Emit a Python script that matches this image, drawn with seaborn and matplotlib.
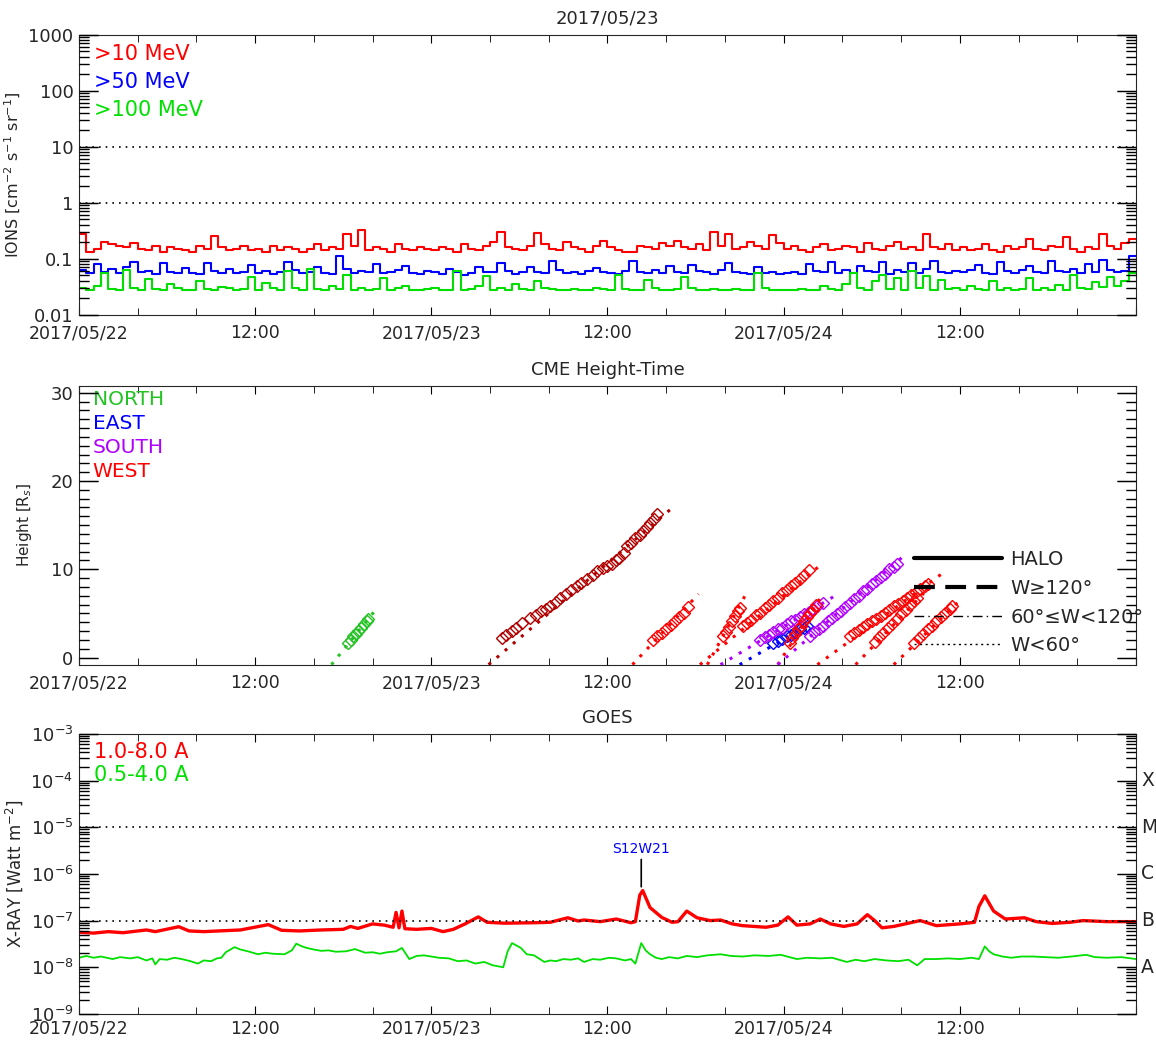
import numpy as np
import pandas as pd
import seaborn as sns
import matplotlib.pyplot as plt
import matplotlib.dates as mdates
import matplotlib.ticker as mticker
import matplotlib.transforms as mtransforms
from matplotlib.lines import Line2D

# ---- data ----
START = pd.Timestamp('2017-05-22')

# proton flux, 30 min steps starting 2017/05/22 00:00
p10 = [28, 13, 15, 20, 18, 17, 16, 19, 15, 14, 17, 13, 16, 15, 14, 13, 17, 15, 25, 16, 14, 15, 17, 14,
       15, 13, 17, 14, 16, 15, 13, 15, 18, 14, 16, 15, 27, 17, 32, 14, 16, 15, 13, 18, 15, 14, 16, 15,
       14, 16, 15, 13, 18, 15, 14, 17, 20, 30, 16, 15, 14, 17, 29, 18, 15, 14, 20, 16, 15, 13, 17, 21,
       16, 14, 13, 13, 17, 16, 15, 19, 17, 21, 16, 15, 18, 14, 30, 17, 28, 15, 16, 20, 17, 15, 26, 19,
       15, 17, 14, 13, 16, 18, 14, 15, 17, 16, 13, 19, 15, 14, 17, 20, 15, 16, 14, 28, 16, 15, 18, 14,
       16, 14, 15, 18, 14, 13, 17, 15, 16, 22, 15, 14, 17, 16, 24, 15, 13, 16, 15, 27, 17, 15, 19, 22]
p50 = [62, 55, 80, 58, 66, 55, 72, 88, 57, 60, 54, 82, 58, 56, 68, 55, 53, 84, 61, 56, 64, 55, 58, 76,
       55, 60, 53, 57, 88, 62, 55, 58, 72, 56, 54, 110, 64, 56, 60, 58, 80, 55, 57, 62, 75, 56, 54, 60,
       58, 54, 66, 57, 52, 55, 70, 58, 57, 85, 60, 54, 57, 72, 58, 56, 90, 62, 55, 58, 54, 60, 68, 57,
       56, 54, 60, 90, 58, 55, 62, 56, 74, 58, 56, 78, 60, 57, 54, 62, 85, 58, 56, 54, 70, 56, 58, 53,
       55, 58, 54, 80, 60, 57, 88, 56, 62, 55, 75, 60, 57, 88, 54, 62, 58, 85, 56, 64, 90, 58, 55, 60,
       57, 62, 78, 56, 54, 86, 60, 56, 62, 74, 58, 55, 92, 60, 57, 64, 56, 80, 58, 95, 62, 57, 60, 110]
p100 = [30, 28, 32, 55, 29, 28, 62, 30, 28, 44, 29, 27, 35, 30, 28, 27, 40, 29, 28, 31, 30, 27, 29, 46,
        28, 36, 30, 27, 60, 30, 28, 65, 29, 27, 32, 29, 52, 28, 30, 27, 29, 45, 28, 30, 33, 28, 27, 29,
        30, 28, 27, 60, 28, 29, 32, 48, 28, 30, 27, 35, 29, 28, 40, 30, 29, 27, 28, 29, 27, 28, 30, 29,
        28, 50, 29, 27, 28, 42, 30, 28, 27, 29, 47, 30, 28, 27, 29, 28, 27, 29, 28, 27, 55, 30, 28, 27,
        28, 27, 29, 28, 27, 33, 29, 28, 35, 55, 30, 28, 40, 52, 29, 45, 28, 60, 30, 48, 28, 42, 29, 30,
        28, 33, 29, 27, 40, 28, 30, 27, 29, 45, 28, 30, 27, 34, 28, 50, 30, 29, 38, 31, 47, 33, 40, 55]

# GOES x-ray, (hours, flux in 1e-8 W m^-2)
xl_t = [0, 1, 2, 3, 4.6, 5.2, 6.8, 7.5, 8.5, 9.5, 11, 12.9, 13.8, 15, 16.5, 18, 18.5, 19.0, 20.0, 20.8,
        21.4, 21.6, 21.8, 22.0, 22.2, 23.0, 24.0, 24.8, 25.5, 26.3, 27.2, 27.8, 29, 31, 32.1, 33.3, 34.0,
        34.4, 35.5, 36.6, 37.6, 37.9, 38.2, 38.4, 38.9, 39.7, 40.4, 40.8, 41.4, 42.1, 43.0, 43.7, 44.5,
        45.2, 46.8, 47.6, 48.3, 48.9, 49.8, 50.5, 51.2, 52.1, 53.0, 53.7, 54.2, 54.7, 55.5, 57.3, 58.4,
        60, 61.0, 61.3, 61.7, 62.3, 63.1, 64.4, 65.2, 66.3, 67.5, 68.4, 70, 71.5, 72]
xl_v = [5.6, 5.4, 5.8, 5.5, 6.3, 5.8, 7.4, 6.0, 5.8, 6.0, 6.3, 8.2, 6.2, 6.0, 6.3, 6.5, 7.5, 6.8, 8.5, 8.0,
        7.2, 15, 7.0, 16, 6.7, 6.5, 6.8, 5.8, 6.5, 8.5, 12, 9.2, 8.8, 9.0, 9.2, 11.5, 9.8,
        10.3, 9.5, 10.8, 9.0, 9.5, 35, 44, 19, 11.7, 9.2, 9.5, 16, 11.5, 10.0, 10.3, 8.5,
        7.8, 7.2, 8.0, 12, 8.0, 8.5, 10.8, 8.5, 7.5, 8.5, 13.4, 10, 7.0, 7.5, 10.0, 7.8,
        8.5, 9.2, 20, 34, 16, 10.8, 11.5, 9.5, 8.7, 9.2, 10.0, 9.5, 9.5, 9.5]
xs_t = [0, 0.5, 1, 1.5, 2.3, 2.8, 3.5, 4.0, 4.6, 5.0, 5.2, 5.5, 6, 6.5, 7, 7.6, 8.1, 8.5, 9.0, 9.4, 9.7,
        10.0, 10.6, 11.0, 11.5, 12.2, 12.7, 13.2, 14.0, 14.5, 14.8, 15.2, 15.5, 16.0, 16.5, 17.0, 17.5,
        18.2, 18.8, 19.5, 20.0, 20.5, 21.0, 21.6, 22.0, 22.5, 23.0, 23.5, 24.0, 24.5, 25.2, 25.8, 26.4,
        27.0, 27.6, 28.2, 28.9, 29.2, 29.5, 30.1, 30.5, 31.0, 31.7, 32.1, 32.5, 33.0, 33.5, 34.0, 34.4,
        35.0, 35.5, 36.1, 36.6, 37.2, 37.6, 37.9, 38.3, 38.6, 38.9, 39.3, 39.7, 40.2, 40.8, 41.4, 42.1,
        42.8, 43.7, 44.4, 45.2, 46.0, 47.0, 47.8, 48.9, 49.6, 50.5, 51.3, 52.3, 52.9, 53.5, 54.2, 55.0,
        55.8, 56.5, 57.1, 57.6, 58.4, 59.2, 60.0, 60.8, 61.3, 61.7, 62.0, 62.3, 62.9, 63.5, 64.2, 65.0,
        65.8, 66.7, 67.6, 68.6, 69.2, 70.0, 71.0, 72]
xs_v = [1.6, 1.75, 1.6, 1.7, 1.5, 1.65, 1.55, 1.65, 1.4, 1.55, 1.15, 1.5, 1.45, 1.6, 1.5, 1.35, 1.2, 1.4,
        1.35, 1.55, 1.6, 2.1, 2.7, 2.4, 2.2, 1.9, 2.05, 1.95, 1.9, 2.3, 3.2, 2.8, 2.6, 2.4, 2.25, 2.3, 2.15,
        2.2, 2.45, 2.05, 2.1, 1.95, 2.1, 2.2, 2.6, 1.5, 1.75, 1.8, 1.7, 1.6, 1.55, 1.35, 1.4,
        1.2, 1.3, 1.1, 1.0, 2.2, 3.3, 2.6, 1.9, 1.8, 1.3, 1.4, 1.35, 1.5, 1.45, 1.55, 1.3,
        1.5, 1.45, 1.6, 1.55, 1.4, 1.5, 1.2, 3.3, 2.3, 1.9, 1.6, 1.5, 1.65, 1.55, 1.75, 1.65,
        1.8, 1.9, 1.75, 1.7, 1.8, 1.75, 1.85, 1.5, 1.6, 1.55, 1.6, 1.3, 1.45, 1.35, 1.5, 1.4,
        1.35, 1.45, 1.1, 1.5, 1.5, 1.55, 1.5, 1.6, 1.5, 2.8, 2.2, 1.9, 1.7, 1.6, 1.7, 1.7,
        1.65, 1.6, 1.7, 1.85, 1.65, 1.6, 1.65, 1.5]

# CME height-time: measured points (hours, Rs) and linear fits
cme_color = ['#22c322', '#b00000', 'red', 'red', 'red', 'blue', '#b000ff', 'red', '#b000ff', 'red', 'red', 'red']
cme_t = [
    [18.3, 18.5, 18.7, 18.9, 19.0, 19.2, 19.4, 19.6, 19.7],
    [28.8, 29.1, 29.5, 29.8, 30.2, 30.7, 31.1, 31.5, 31.8, 32.1, 32.5, 32.8, 33.2, 33.5, 33.9, 34.2, 34.6,
     35.0, 35.3, 35.7, 36.0, 36.3, 36.6, 36.8, 37.1, 37.3, 37.6, 37.9, 38.2, 38.4, 38.7, 38.9, 39.2, 39.4],
    [39.1, 39.4, 39.7, 40.0, 40.3, 40.6, 40.9, 41.2, 41.5],
    [43.9, 44.1, 44.3, 44.5, 44.7, 44.9, 45.0],
    [45.2, 45.5, 45.8, 46.1, 46.4, 46.7, 47.0, 47.3, 47.6, 47.9, 48.2, 48.5, 48.8, 49.1, 49.4, 49.7],
    [47.3, 47.6, 47.9, 48.2, 48.5, 48.8, 49.1, 49.4, 49.6],
    [46.4, 46.7, 47.0, 47.3, 47.6, 47.9, 48.2, 48.5, 48.8, 49.1, 49.4, 49.7, 50.0, 50.3, 50.7],
    [48.4, 48.6, 48.8, 49.0, 49.2, 49.4, 49.6, 49.8, 50.0, 50.2],
    [49.8, 50.1, 50.4, 50.7, 51.0, 51.3, 51.6, 51.9, 52.2, 52.5, 52.8, 53.1, 53.4, 53.7, 54.0, 54.3,
     54.6, 54.9, 55.2, 55.5, 55.7],
    [52.5, 52.8, 53.1, 53.4, 53.7, 54.0, 54.3, 54.6, 54.9, 55.2, 55.5, 55.8, 56.1, 56.4, 56.7, 57.0,
     57.3, 57.6, 57.8],
    [54.2, 54.5, 54.8, 55.1, 55.4, 55.7, 56.0, 56.3, 56.6, 56.9, 57.1],
    [56.9, 57.2, 57.5, 57.8, 58.1, 58.4, 58.7, 59.0, 59.3, 59.5],
]
cme_h = [
    [1.6, 2.0, 2.4, 2.7, 3.0, 3.3, 3.8, 4.1, 4.4],
    [2.2, 2.6, 3.0, 3.4, 3.9, 4.5, 4.8, 5.3, 5.5, 5.8, 6.3, 6.8, 7.2, 7.6, 8.1, 8.5, 8.9,
     9.3, 9.8, 10.2, 10.4, 10.6, 11.0, 11.3, 11.9, 12.6, 13.0, 13.5, 13.9, 14.3, 14.8, 15.3, 15.7, 16.3],
    [2.0, 2.4, 2.8, 3.2, 3.7, 4.1, 4.6, 5.1, 5.7],
    [2.4, 2.9, 3.5, 4.1, 4.7, 5.3, 5.6],
    [3.6, 3.9, 4.3, 4.8, 5.1, 5.6, 6.0, 6.4, 6.8, 7.3, 7.6, 8.1, 8.5, 8.9, 9.4, 9.9],
    [1.6, 1.9, 2.1, 2.4, 2.6, 2.9, 3.2, 3.4, 3.6],
    [2.0, 2.3, 2.6, 2.9, 3.2, 3.4, 3.8, 4.1, 4.3, 4.6, 4.9, 5.2, 5.5, 5.8, 6.2],
    [1.7, 2.2, 2.7, 3.2, 3.6, 4.1, 4.6, 5.0, 5.4, 5.9],
    [2.5, 2.9, 3.2, 3.6, 4.1, 4.5, 4.9, 5.3, 5.7, 6.2, 6.6, 7.0, 7.5, 7.8, 8.3, 8.7, 9.1, 9.5, 10.0, 10.3, 10.6],
    [2.5, 2.8, 3.1, 3.5, 3.8, 4.1, 4.4, 4.7, 5.1, 5.4, 5.8, 6.1, 6.4, 6.8, 7.1, 7.4, 7.8, 8.1, 8.3],
    [1.8, 2.3, 2.8, 3.3, 3.8, 4.4, 4.9, 5.4, 5.9, 6.4, 6.7],
    [1.7, 2.2, 2.7, 3.2, 3.6, 4.1, 4.6, 5.0, 5.5, 5.8],
]
cme_fit = [(17.2, -0.8, 20.3, 5.6), (27.9, -0.8, 40.3, 16.8), (37.7, -0.8, 42.2, 7.2),
           (42.8, -0.8, 45.5, 7.4), (42.3, -0.8, 50.6, 10.6), (45.0, -0.8, 50.0, 4.0),
           (43.7, -0.8, 51.4, 6.9), (47.6, -0.8, 50.6, 7.0), (47.6, -0.8, 56.1, 11.4),
           (50.3, -0.8, 58.7, 9.4), (52.9, -0.8, 57.6, 7.4), (55.5, -0.8, 60.2, 6.8)]

flux_labels = ['>10 MeV', '>50 MeV', '>100 MeV']
flux_colors = ['red', 'blue', '#00e000']
dir_labels = ['NORTH', 'EAST', 'SOUTH', 'WEST']
dir_colors = ['#22c322', 'blue', '#b000ff', 'red']
width_labels = ['HALO', 'W\u2265120\u00b0', '60\u00b0\u2264W<120\u00b0', 'W<60\u00b0']
goes_classes = ['X', 'M', 'C', 'B', 'A']


def to_time(hours):
    return START + pd.to_timedelta(np.asarray(hours, dtype=float), unit='h')


def fmt_date(x, pos):
    d = mdates.num2date(x).replace(tzinfo=None)
    if d >= START + pd.Timedelta(hours=72):
        return ''
    if d.hour == 0:
        return d.strftime('%Y/%m/%d')
    return d.strftime('%H:%M')


def draw_yticks(ax, major_frac=0.018, minor_frac=0.0095):
    # IDL style inward ticks on both y sides, placed from the axis locators
    lo, hi = ax.get_ylim()
    tr = ax.get_yaxis_transform()
    for locs, frac in [(ax.yaxis.get_majorticklocs(), major_frac),
                       (ax.yaxis.get_minorticklocs(), minor_frac)]:
        locs = [v for v in locs if lo <= v <= hi]
        ax.hlines(locs, 0, frac, transform=tr, colors='black', lw=1.0, clip_on=False, zorder=5)
        ax.hlines(locs, 1 - frac, 1, transform=tr, colors='black', lw=1.0, clip_on=False, zorder=5)


sns.set_style('ticks')
plt.rcParams['font.family'] = ['DejaVu Sans']
plt.rcParams.update({'xtick.direction': 'in', 'ytick.direction': 'in',
                     'ytick.major.size': 14, 'ytick.minor.size': 7,
                     'xtick.major.size': 6, 'xtick.minor.size': 5,
                     'xtick.labelsize': 12.5, 'ytick.labelsize': 13,
                     'xtick.major.pad': 7, 'ytick.major.pad': 4})

fig = plt.figure(figsize=(11.56, 10.54), dpi=100)
ax1 = fig.add_axes([0.0683, 0.7015, 0.9144, 0.2657])
ax2 = fig.add_axes([0.0683, 0.3694, 0.9144, 0.2647])
ax3 = fig.add_axes([0.0683, 0.0380, 0.9144, 0.2657])

dotted = (0, (1, 3))

# ---- panel 1: protons ----
step_t = to_time(np.arange(len(p10) + 1) * 0.5)
for vals, scale, c in zip([p10, p50, p100], [0.01, 0.001, 0.001], flux_colors):
    y = np.array(vals + [vals[-1]]) * scale
    sns.lineplot(x=step_t, y=y, ax=ax1, color=c, lw=1.5, drawstyle='steps-post',
                 estimator=None, errorbar=None)
ax1.set_yscale('log')
ax1.set_ylim(0.01, 1000)
for lev in [1, 10]:
    ax1.axhline(lev, color='k', ls=dotted, lw=1.2)
ax1.set_ylabel('IONS [cm$^{-2}$ s$^{-1}$ sr$^{-1}$]', fontsize=11.5, labelpad=4)
ax1.set_title('2017/05/23', fontsize=13, pad=8)
for lab, c, yy in zip(flux_labels, flux_colors, [0.929, 0.829, 0.732]):
    ax1.text(0.014, yy, lab, color=c, fontsize=15, va='center', transform=ax1.transAxes)

# ---- panel 2: CME height-time ----
for c, ts, hs, fit in zip(cme_color, cme_t, cme_h, cme_fit):
    sns.lineplot(x=to_time([fit[0], fit[2]]), y=[fit[1], fit[3]], ax=ax2, color=c,
                 ls=(0, (1, 2.5)), lw=2.2, estimator=None, errorbar=None)
    sns.lineplot(x=to_time(ts), y=hs, ax=ax2, color=c, ls='none', marker='D', markersize=6.5,
                 markerfacecolor='none', markeredgecolor=c, markeredgewidth=1.0,
                 estimator=None, errorbar=None, sort=False)
ax2.set_ylim(-0.8, 30.8)
ax2.set_ylabel('Height [R$_s$]', fontsize=11, labelpad=12)
ax2.set_title('CME Height-Time', fontsize=13, pad=8)
for lab, c, yy in zip(dir_labels, dir_colors, [0.950, 0.864, 0.778, 0.692]):
    ax2.text(0.013, yy, lab, color=c, fontsize=14.5, va='center', transform=ax2.transAxes)
handles = [Line2D([], [], color='k', lw=3, ls='-'),
           Line2D([], [], color='k', lw=3, ls=(0, (5, 2.5))),
           Line2D([], [], color='k', lw=1, ls=(0, (7, 3, 1, 3))),
           Line2D([], [], color='k', lw=1, ls=(0, (1.5, 2.5)))]
ax2.legend(handles, width_labels, loc='center left', bbox_to_anchor=(0.79, 0.222),
           frameon=False, fontsize=14, handlelength=4.5, handletextpad=0.45,
           labelspacing=0.5, borderpad=0, borderaxespad=0)

# ---- panel 3: GOES ----
sns.lineplot(x=to_time(xs_t), y=np.array(xs_v) * 1e-8, ax=ax3, color='#00e000', lw=1.3,
             estimator=None, errorbar=None)
sns.lineplot(x=to_time(xl_t), y=np.array(xl_v) * 1e-8, ax=ax3, color='red', lw=2.4,
             estimator=None, errorbar=None)
ax3.set_yscale('log')
ax3.set_ylim(1e-9, 1e-3)
for lev in [1e-5, 1e-7]:
    ax3.axhline(lev, color='k', ls=dotted, lw=1.2)
ax3.set_ylabel('X-RAY [Watt m$^{-2}$]', fontsize=12, labelpad=4)
ax3.set_title('GOES', fontsize=13, pad=8)
ax3.text(0.014, 0.936, '1.0-8.0 A', color='red', fontsize=15, va='center', transform=ax3.transAxes)
ax3.text(0.014, 0.854, '0.5-4.0 A', color='#00e000', fontsize=15, va='center', transform=ax3.transAxes)
trans = mtransforms.blended_transform_factory(ax3.transAxes, ax3.transData)
for lab, lev in zip(goes_classes, [1e-4, 1e-5, 1e-6, 1e-7, 1e-8]):
    ax3.text(1.005, lev, lab, fontsize=13.5, va='center', ha='left', transform=trans)
ax3.annotate('S12W21', xy=(to_time([38.3])[0], 5.3e-7), xytext=(to_time([38.3])[0], 2.4e-6),
             color='blue', fontsize=10, ha='center', va='bottom',
             arrowprops=dict(arrowstyle='-', color='k', lw=1.2, shrinkA=0, shrinkB=0))

# ---- axes, locators, then tick styling ----
for ax in [ax1, ax3]:
    ax.yaxis.set_major_locator(mticker.LogLocator(base=10, numticks=20))
    ax.yaxis.set_minor_locator(mticker.LogLocator(base=10, subs=np.arange(2, 10), numticks=100))
    ax.yaxis.set_minor_formatter(mticker.NullFormatter())
ax1.yaxis.set_major_formatter(mticker.FuncFormatter(lambda v, p: '%g' % v))
ax3.yaxis.set_major_formatter(mticker.LogFormatterMathtext())
ax2.yaxis.set_major_locator(mticker.MultipleLocator(10))
ax2.yaxis.set_minor_locator(mticker.MultipleLocator(1))

for ax in [ax1, ax2, ax3]:
    ax.set_xlim(START, START + pd.Timedelta(hours=72))
    ax.xaxis.set_major_locator(mdates.HourLocator(byhour=[0, 12]))
    ax.xaxis.set_minor_locator(mdates.HourLocator(byhour=range(0, 24, 4)))
    ax.xaxis.set_major_formatter(mticker.FuncFormatter(fmt_date))
    ax.set_xlabel('')
    ax.tick_params(axis='both', which='both', direction='in', left=True, right=True,
                   top=True, bottom=True, color='black')
    draw_yticks(ax)
ax3.tick_params(axis='x', which='major', pad=4)

fig.savefig('out.png', dpi=100)
